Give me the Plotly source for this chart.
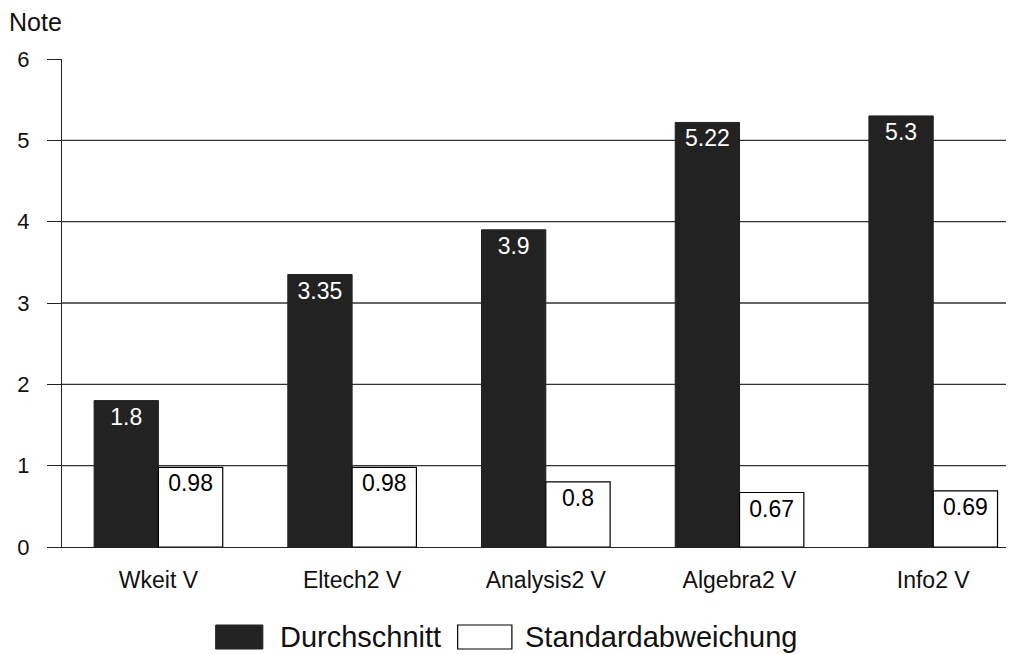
import plotly.graph_objects as go

categories = ["Wkeit V", "Eltech2 V", "Analysis2 V", "Algebra2 V", "Info2 V"]
durchschnitt = [1.8, 3.35, 3.9, 5.22, 5.3]
standardabweichung = [0.98, 0.98, 0.8, 0.67, 0.69]
y_ticks = [0, 1, 2, 3, 4, 5, 6]
series_names = ["Durchschnitt", "Standardabweichung"]

FONT = "Liberation Sans, Arial, Helvetica, sans-serif"
DARK = "#222222"

fig = go.Figure()
fig.add_trace(go.Bar(
    x=categories, y=durchschnitt, name=series_names[0],
    marker=dict(color=DARK, line=dict(color=DARK, width=1)),
    text=[f"{v:g}" for v in durchschnitt], textposition="inside",
    insidetextanchor="end", textfont=dict(color="white", size=23, family=FONT),
    textangle=0, cliponaxis=False,
))
fig.add_trace(go.Bar(
    x=categories, y=standardabweichung, name=series_names[1],
    marker=dict(color="white", line=dict(color="black", width=1.2)),
    text=[f"{v:g}" for v in standardabweichung], textposition="inside",
    insidetextanchor="end", textfont=dict(color="black", size=23, family=FONT),
    textangle=0, cliponaxis=False,
))

# horizontal grid lines (1..5)
for v in y_ticks[1:-1]:
    fig.add_shape(type="line", xref="paper", yref="y", x0=0, x1=1, y0=v, y1=v,
                  line=dict(color="#333333", width=1.3), layer="below")

# custom legend (positions in screen pixels relative to plot area)
px_w, px_h = 948, 488
def px2x(px):
    return (px - 62) / px_w
def px2y(py):
    return (547 - py) / px_h

fig.add_shape(type="rect", xref="paper", yref="paper",
              x0=px2x(215), x1=px2x(262), y0=px2y(649), y1=px2y(625),
              fillcolor=DARK, line=dict(color=DARK, width=1))
fig.add_shape(type="rect", xref="paper", yref="paper",
              x0=px2x(456), x1=px2x(510), y0=px2y(649), y1=px2y(625),
              fillcolor="white", line=dict(color="black", width=1.2))
fig.add_annotation(xref="paper", yref="paper", x=px2x(277), y=px2y(637),
                   text=series_names[0], showarrow=False, xanchor="left", yanchor="middle",
                   font=dict(family=FONT, size=29, color="#111111"))
fig.add_annotation(xref="paper", yref="paper", x=px2x(521), y=px2y(637),
                   text=series_names[1], showarrow=False, xanchor="left", yanchor="middle",
                   font=dict(family=FONT, size=29, color="#111111"))
fig.add_annotation(xref="paper", yref="paper", x=px2x(7), y=px2y(22),
                   text="Note", showarrow=False, xanchor="left", yanchor="middle",
                   font=dict(family=FONT, size=25, color="#111111"))

fig.update_layout(
    width=1006, height=646,
    margin=dict(l=54, r=0, t=51, b=107),
    paper_bgcolor="white", plot_bgcolor="white",
    barmode="group", bargap=0.336, bargroupgap=0,
    showlegend=False,
    font=dict(family=FONT, color="#111111"),
    uniformtext=dict(minsize=10, mode="show"),
)
fig.update_xaxes(
    range=[-0.4977, 4.417], showgrid=False, showline=True, linecolor="#222222", linewidth=1.3,
    ticks="", tickfont=dict(size=23, family=FONT, color="#111111"), ticklabelstandoff=12,
    zeroline=False,
)
fig.update_yaxes(
    range=[0, 6], tickvals=y_ticks, showgrid=False, zeroline=False,
    showline=True, linecolor="#222222", linewidth=1.3,
    ticks="outside", ticklen=14, tickwidth=1.3, tickcolor="#222222",
    tickfont=dict(size=22, family=FONT, color="#111111"), ticklabelstandoff=13,
)

fig.write_html("out.html")
